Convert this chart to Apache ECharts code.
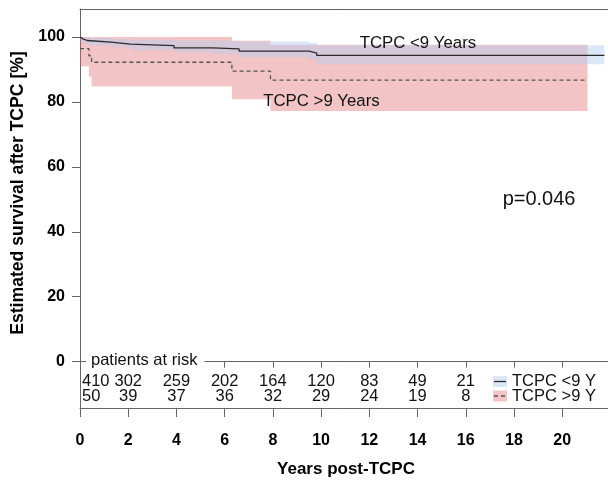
<!DOCTYPE html>
<html>
<head>
<meta charset="utf-8">
<script src="https://cdn.jsdelivr.net/npm/echarts@6/dist/echarts.min.js"></script>
<style>html,body{margin:0;padding:0;background:#fff}#chart{width:608px;height:483px}</style>
</head>
<body>
<div id="chart"></div>
<script>
// ---- data ----
// Group TCPC <9 years
const timesLt9 = [0, 0.03, 0.12, 0.3, 1.28, 2.1, 3.9, 5.5, 6.6, 9.5, 9.82, 21.75];
const survLt9  = [100, 99.4, 98.9, 98.4, 97.8, 97.3, 96.6, 96.3, 95.6, 95.0, 94.3, 94.3];
const upperLt9 = [100, 100, 99.9, 99.7, 99.4, 99.1, 98.9, 98.8, 98.6, 98.2, 97.4, 97.4];
const lowerLt9 = [100, 98.6, 98.0, 97.4, 96.8, 96.0, 95.3, 94.8, 93.8, 93.2, 91.6, 91.6];
// Group TCPC >9 years
const timesGt9 = [0, 0.37, 0.48, 6.3, 7.9, 21.05];
const survGt9  = [96.4, 94.2, 92.2, 89.5, 86.7, 86.7];
const upperGt9 = [100, 100, 100, 98.8, 97.6, 97.6];
const lowerGt9 = [91.0, 87.8, 84.7, 80.8, 77.2, 77.2];
// Patients at risk
const riskTimes = [0, 2, 4, 6, 8, 10, 12, 14, 16];
const riskLt9 = [410, 302, 259, 202, 164, 120, 83, 49, 21];
const riskGt9 = [50, 39, 37, 36, 32, 29, 24, 19, 8];
// Ticks
const xTicks = [0, 2, 4, 6, 8, 10, 12, 14, 16, 18, 20];
const yTicks = [0, 20, 40, 60, 80, 100];
// Text annotations
const annotTexts = ['TCPC <9 Years', 'TCPC >9 Years', 'p=0.046'];

// ---- layout / style ----
const X_MIN = 0, X_MAX = 21.9;
const Y_MIN = -14.26, Y_MAX = 108.6;
const annotPos = [[11.6, 97.9, 16.8], [7.6, 80.1, 16.8], [17.53, 50, 20]];
const riskRowY = [-6.1, -10.6];
const FONT = '"Liberation Sans", Arial, Helvetica, sans-serif';
const AXIS_COLOR = '#666';
const BLUE = 'rgba(179,205,240,0.46)';
const RED = 'rgba(220,100,105,0.38)';

const pairs = (t, v) => t.map((x, i) => [x, v[i]]);

// stepped confidence band polygon drawn through the cartesian scales
function bandSeries(name, times, lo, hi, color, z) {
  return {
    name: name, type: 'custom', silent: true, z: z,
    data: [[times[0], lo[0]]],
    renderItem: function (params, api) {
      const pts = [];
      for (let i = 0; i < times.length - 1; i++) {
        pts.push(api.coord([times[i], hi[i]]));
        pts.push(api.coord([times[i + 1], hi[i]]));
      }
      for (let i = times.length - 2; i >= 0; i--) {
        pts.push(api.coord([times[i + 1], lo[i]]));
        pts.push(api.coord([times[i], lo[i]]));
      }
      return { type: 'polygon', shape: { points: pts }, style: { fill: color } };
    }
  };
}

const chart = echarts.init(document.getElementById('chart'), null, { renderer: 'canvas' });

const riskData = [];
riskTimes.forEach((t, i) => {
  riskData.push([t, riskRowY[0], riskLt9[i]]);
  riskData.push([t, riskRowY[1], riskGt9[i]]);
});

chart.setOption({
  animation: false,
  backgroundColor: '#fff',
  textStyle: { fontFamily: FONT },
  grid: { left: 80, right: 0, top: 9, bottom: 75, containLabel: false, outerBoundsMode: 'none' },
  xAxis: [
    {
      type: 'value', position: 'bottom', min: X_MIN, max: X_MAX,
      axisLine: { show: true, onZero: false, lineStyle: { color: AXIS_COLOR, width: 1 } },
      axisTick: { show: true, customValues: xTicks, length: 9, lineStyle: { color: AXIS_COLOR } },
      axisLabel: { customValues: xTicks, margin: 25, fontSize: 16, fontWeight: 'bold', color: '#000', fontFamily: FONT },
      splitLine: { show: false }
    },
    {
      type: 'value', position: 'bottom', min: X_MIN, max: X_MAX,
      axisLine: { show: true, onZero: true, lineStyle: { color: AXIS_COLOR, width: 1 } },
      axisTick: { show: true, customValues: xTicks, length: 6, lineStyle: { color: AXIS_COLOR } },
      axisLabel: { show: false },
      splitLine: { show: false }
    },
    {
      type: 'value', position: 'top', min: X_MIN, max: X_MAX,
      axisLine: { show: true, onZero: false, lineStyle: { color: AXIS_COLOR, width: 1 } },
      axisTick: { show: false }, axisLabel: { show: false }, splitLine: { show: false }
    }
  ],
  yAxis: {
    type: 'value', min: Y_MIN, max: Y_MAX,
    axisLine: { show: true, onZero: false, lineStyle: { color: AXIS_COLOR, width: 1 } },
    axisTick: { show: true, customValues: yTicks, length: 8, lineStyle: { color: AXIS_COLOR } },
    axisLabel: { customValues: yTicks, margin: 15, fontSize: 16, fontWeight: 'bold', color: '#000', fontFamily: FONT },
    splitLine: { show: false }
  },
  series: [
    bandSeries('gt9-band', timesGt9, lowerGt9, upperGt9, RED, 1),
    bandSeries('lt9-band', timesLt9, lowerLt9, upperLt9, BLUE, 2),
    {
      name: 'TCPC <9 Y', type: 'line', step: 'end', showSymbol: false, symbol: 'none', z: 4,
      data: pairs(timesLt9, survLt9), lineStyle: { color: '#2b2b2b', width: 1.3 }
    },
    {
      name: 'TCPC >9 Y', type: 'line', step: 'end', showSymbol: false, symbol: 'none', z: 4,
      data: pairs(timesGt9, survGt9), lineStyle: { color: '#555', width: 1.3, type: [4, 3] }
    },
    {
      name: 'at risk', type: 'custom', z: 5, silent: true,
      data: riskData,
      renderItem: function (params, api) {
        const d = riskData[params.dataIndex];
        const p = api.coord([d[0], d[1]]);
        const first = d[0] === 0;
        return {
          type: 'text', x: first ? p[0] + 2 : p[0], y: p[1],
          style: { text: String(d[2]), align: first ? 'left' : 'center', verticalAlign: 'middle',
                   font: '16.5px ' + FONT, fill: '#111' }
        };
      }
    },
    {
      name: 'annotations', type: 'custom', z: 5, silent: true,
      data: annotPos.map(p => [p[0], p[1]]),
      renderItem: function (params, api) {
        const a = annotPos[params.dataIndex];
        const p = api.coord([a[0], a[1]]);
        return {
          type: 'text', x: p[0], y: p[1],
          style: { text: annotTexts[params.dataIndex], align: 'left', verticalAlign: 'middle',
                   font: a[2] + 'px ' + FONT, fill: '#111' }
        };
      }
    }
  ],
  graphic: [
    { type: 'text', x: 18, y: 193, rotation: Math.PI / 2, z: 100,
      style: { text: 'Estimated survival after TCPC [%]', align: 'center', verticalAlign: 'middle',
               font: 'bold 17.6px ' + FONT, fill: '#000' } },
    { type: 'text', x: 346, y: 469, z: 100,
      style: { text: 'Years post-TCPC', align: 'center', verticalAlign: 'middle',
               font: 'bold 17px ' + FONT, fill: '#000' } },
    { type: 'text', x: 86, y: 360, z: 100,
      style: { text: 'patients at risk', align: 'left', verticalAlign: 'middle',
               font: '16.5px ' + FONT, fill: '#111', backgroundColor: '#fff', padding: [2, 7, 2, 5] } },
    // legend
    { type: 'rect', z: 100, shape: { x: 493, y: 376, width: 14, height: 11 }, style: { fill: BLUE } },
    { type: 'line', z: 101, shape: { x1: 494, y1: 381.5, x2: 506, y2: 381.5 }, style: { stroke: '#2b2b2b', lineWidth: 1.3 } },
    { type: 'text', z: 100, x: 512, y: 381.5,
      style: { text: 'TCPC <9 Y', align: 'left', verticalAlign: 'middle', font: '16.5px ' + FONT, fill: '#111' } },
    { type: 'rect', z: 100, shape: { x: 493, y: 390.5, width: 14, height: 11 }, style: { fill: RED } },
    { type: 'line', z: 101, shape: { x1: 494, y1: 396, x2: 506, y2: 396 }, style: { stroke: '#555', lineWidth: 1.3, lineDash: [4, 3] } },
    { type: 'text', z: 100, x: 512, y: 396,
      style: { text: 'TCPC >9 Y', align: 'left', verticalAlign: 'middle', font: '16.5px ' + FONT, fill: '#111' } }
  ]
});
</script>
</body>
</html>
